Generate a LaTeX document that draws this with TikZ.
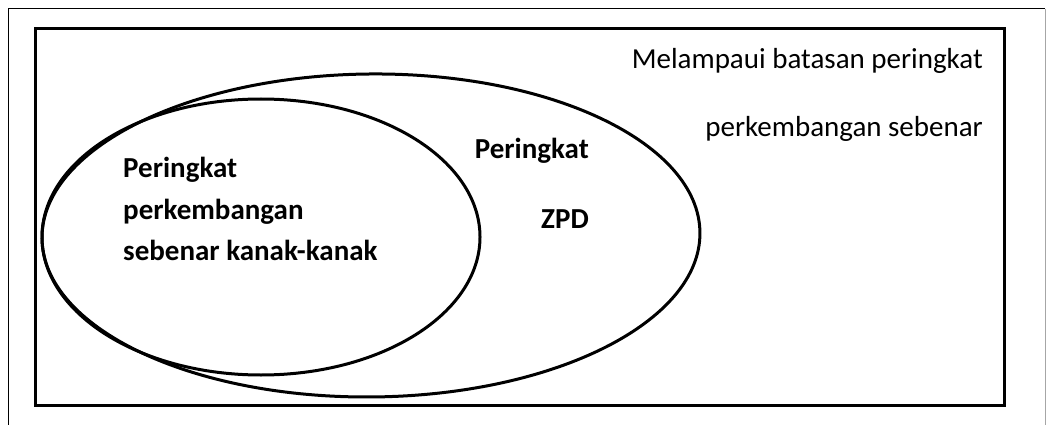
\documentclass[tikz,border=0pt]{standalone}
\usepackage{fontspec}
\setmainfont{Carlito}
\begin{document}
\begin{tikzpicture}[x=1pt,y=-1pt]

    \tikzset{
      frame/.style={
        line width=1pt,
      },
      box/.style={
        line width=3pt,
        draw,
      },
      ring/.style={
        line width=3pt,
        draw,
      },
      label/.style={
        font=\fontsize{29}{32}\selectfont\bfseries,
        inner sep=0pt,
      },
      note/.style={
        font=\fontsize{29}{32}\selectfont,
        inner sep=0pt,
      },
    }
    \useasboundingbox (0,0) rectangle (1046,425);
    % outer page frame
    \draw[frame] (8,425)--(8,9)--(1045,9);
    \draw[frame,color={black!35}] (1045,9)--(1045,425);
    % box round the diagram
    \draw[box] (35,29) rectangle (1004,405);
    % the two levels
    \coordinate (small) at (261,237);
    \coordinate (big) at (371,235.5);
    \draw[ring] (small) ellipse [x radius=219, y radius=138];
    \draw[ring,rotate around={0.5:(big)}] (big) ellipse [x radius=329, y radius=161.5];
    \node[label,anchor=base west] (actual1) at (123,177) {Peringkat};
    \node[label,anchor=base west] (actual2) at (123,219) {perkembangan};
    \node[label,anchor=base west] (actual3) at (123,260) {sebenar kanak-kanak};
    \node[label,anchor=base east] (zpd1) at (589,158) {Peringkat};
    \node[label,anchor=base east] (zpd2) at (589,228) {ZPD};
    \node[note,anchor=base east] (beyond1) at (983,69) {Melampaui batasan peringkat};
    \node[note,anchor=base east] (beyond2) at (983,136) {perkembangan sebenar};

\end{tikzpicture}
\end{document}
